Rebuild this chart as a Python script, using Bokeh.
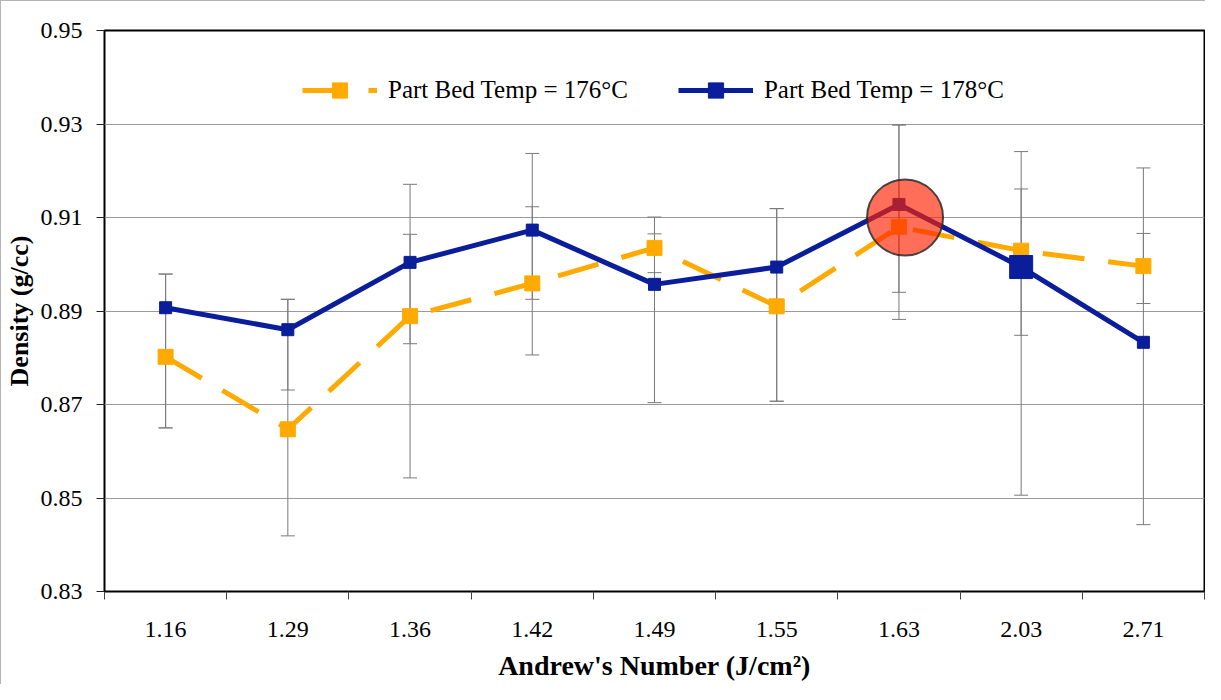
from bokeh.plotting import figure
from bokeh.models import (ColumnDataSource, FixedTicker, Whisker, TeeHead, Legend, LegendItem,
                          PrintfTickFormatter)
from bokeh.embed import file_html
from bokeh.resources import INLINE

# ---------------- data ----------------
categories = ["1.16", "1.29", "1.36", "1.42", "1.49", "1.55", "1.63", "2.03", "2.71"]
density_176 = [0.8802, 0.8647, 0.8889, 0.8959, 0.9035, 0.8910, 0.9080, 0.9029, 0.8996]
density_178 = [0.8907, 0.8860, 0.9004, 0.9073, 0.8957, 0.8994, 0.9128, 0.8994, 0.8833]
err_lo_176 = [0.8650, 0.8419, 0.8543, 0.8806, 0.8982, 0.8707, 0.8882, 0.8506, 0.8916]
err_hi_176 = [0.8979, 0.8925, 0.9171, 0.9123, 0.9101, 0.9119, 0.9298, 0.9241, 0.9066]
err_lo_178 = [0.8650, 0.8731, 0.8830, 0.8925, 0.8704, 0.8707, 0.8940, 0.8848, 0.8443]
err_hi_178 = [0.8979, 0.8925, 0.9064, 0.9237, 0.9065, 0.9119, 0.9298, 0.9161, 0.9206]
y_ticks = [0.83, 0.85, 0.87, 0.89, 0.91, 0.93, 0.95]
series_labels = ["Part Bed Temp = 176°C", "Part Bed Temp = 178°C"]
enlarged_category = "2.03"        # blue point drawn with a larger marker
highlight_category = "1.63"       # red highlight circle
highlight_value = 0.910

FONT = "'Liberation Serif', 'Times New Roman', serif"
ORANGE = "#FFAA00"
BLUE = "#0A1E9C"

xs = list(range(len(categories)))

p = figure(width=1205, height=684, output_backend="svg", toolbar_location=None,
           x_range=(-0.5, len(categories) - 0.5), y_range=(y_ticks[0], y_ticks[-1]),
           min_border_left=103, min_border_right=2, min_border_top=29, min_border_bottom=94)
p.styles = {"border-top": "1px solid #b4b4b4", "border-left": "1px solid #b4b4b4"}
p.background_fill_color = "white"
p.border_fill_color = "white"
p.outline_line_color = "black"
p.outline_line_width = 2

# axes
p.xaxis.ticker = FixedTicker(ticks=xs, minor_ticks=[i - 0.5 for i in range(len(categories) + 1)])
p.xaxis.major_label_overrides = {i: c for i, c in enumerate(categories)}
p.xaxis.major_tick_line_color = None
p.xaxis.major_tick_out = 0
p.xaxis.major_tick_in = 0
p.xaxis.minor_tick_out = 8
p.xaxis.minor_tick_in = 0
p.xaxis.minor_tick_line_color = "#444444"
p.xaxis.major_label_standoff = 22
p.xaxis.axis_label = "Andrew's Number (J/cm²)"
p.xaxis.axis_label_standoff = 10
p.xaxis.axis_label_text_font_size = "28px"

p.yaxis.ticker = FixedTicker(ticks=y_ticks)
p.yaxis.formatter = PrintfTickFormatter(format="%.2f")
p.yaxis.major_tick_out = 8
p.yaxis.major_tick_in = 0
p.yaxis.minor_tick_line_color = None
p.yaxis.major_label_standoff = 14
p.yaxis.axis_label = "Density (g/cc)"
p.yaxis.axis_label_standoff = 4
p.yaxis.axis_label_text_font_size = "26px"

for ax in (p.xaxis, p.yaxis):
    ax.axis_line_color = "black"
    ax.axis_line_width = 1
    ax.major_label_text_font = FONT
    ax.major_label_text_font_size = "24px"
    ax.major_label_text_color = "black"
    ax.axis_label_text_font = FONT
    ax.axis_label_text_font_style = "bold"
    ax.axis_label_text_color = "black"
p.yaxis.major_tick_line_color = "#222222"

p.xgrid.grid_line_color = None
p.ygrid.grid_line_color = "#9a9a9a"
p.ygrid.grid_line_width = 1

# error bars
for lo, hi in ((err_lo_176, err_hi_176), (err_lo_178, err_hi_178)):
    src = ColumnDataSource(dict(x=xs, lo=lo, hi=hi))
    w = Whisker(source=src, base="x", lower="lo", upper="hi", level="underlay",
                line_color="#7a7a7a", line_width=1,
                upper_head=TeeHead(size=14, line_color="#7a7a7a", line_width=1),
                lower_head=TeeHead(size=14, line_color="#7a7a7a", line_width=1))
    p.add_layout(w)

src176 = ColumnDataSource(dict(x=xs, y=density_176))
src178 = ColumnDataSource(dict(x=xs, y=density_178))

l176 = p.line("x", "y", source=src176, line_color=ORANGE, line_width=5, line_dash="42 24")
m176 = p.scatter("x", "y", source=src176, marker="square", size=15, fill_color=ORANGE, line_color=ORANGE)
l178 = p.line("x", "y", source=src178, line_color=BLUE, line_width=5)
m178 = p.scatter("x", "y", source=src178, marker="square", size=12, fill_color=BLUE, line_color=BLUE)

bi = categories.index(enlarged_category)
p.scatter(x=[xs[bi]], y=[density_178[bi]], marker="square", size=23, fill_color=BLUE, line_color=BLUE)

hi_idx = categories.index(highlight_category)
p.scatter(x=[xs[hi_idx] + 0.05], y=[highlight_value], marker="circle", size=76,
          fill_color="#FF2000", fill_alpha=0.65, line_color="#2a2a2a", line_width=2, line_alpha=0.85)

legend = Legend(items=[LegendItem(label=series_labels[0], renderers=[l176, m176]),
                       LegendItem(label=series_labels[1], renderers=[l178, m178])],
                orientation="horizontal", location=(198, 482), padding=0, margin=0,
                spacing=50, glyph_width=75, glyph_height=38, label_standoff=11,
                border_line_color=None, background_fill_alpha=0,
                label_text_font=FONT, label_text_font_size="25px", label_text_color="black")
p.add_layout(legend, "center")

open("out.html", "w").write(file_html(p, INLINE))
